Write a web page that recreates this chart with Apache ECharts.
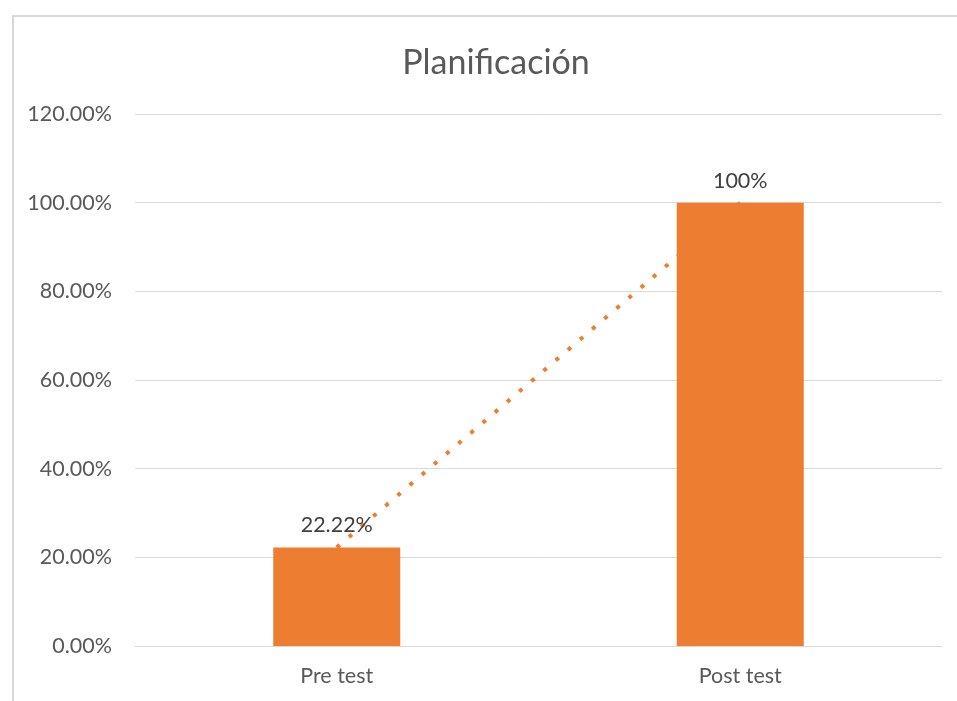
<!DOCTYPE html>
<html>
<head>
<meta charset="utf-8">
<script src="https://cdn.jsdelivr.net/npm/echarts@6/dist/echarts.min.js"></script>
<style>html,body{margin:0;padding:0;background:#fff}#c{width:957px;height:701px}</style>
</head>
<body>
<div id="c"></div>
<script>
const titleText = 'Planificación';
const categories = ['Pre test', 'Post test'];
const values = [0.2222, 1.0];
const valueLabels = ['22.22%', '100%'];
const yMin = 0, yMax = 1.2, yStep = 0.2;

const chart = echarts.init(document.getElementById('c'));
const font = 'Lato, "Open Sans", sans-serif';
chart.setOption({
  animation: false,
  backgroundColor: '#fff',
  textStyle: { fontFamily: font },
  graphic: [{
    type: 'rect', left: 12, top: 15, z: -10,
    shape: { width: 980, height: 720 },
    style: { fill: '#fff', stroke: '#d9d9d9', lineWidth: 2 }
  }],
  title: {
    text: titleText, left: 491, top: 41, textAlign: 'center',
    textStyle: { fontFamily: font, fontSize: 34, fontWeight: 'normal', color: '#595959' }
  },
  grid: { left: 135, right: 15, top: 114, bottom: 55, containLabel: false },
  xAxis: {
    type: 'category', data: categories,
    axisLine: { lineStyle: { color: '#d9d9d9' } },
    axisTick: { show: false },
    axisLabel: { color: '#595959', fontSize: 21.5, fontFamily: font, margin: 19 }
  },
  yAxis: {
    type: 'value', min: yMin, max: yMax, interval: yStep,
    axisLine: { show: false }, axisTick: { show: false },
    splitLine: { lineStyle: { color: '#d9d9d9', width: 1 } },
    axisLabel: { color: '#595959', fontSize: 21.5, fontFamily: font, margin: 23,
      formatter: v => (v * 100).toFixed(2) + '%' }
  },
  series: [
    {
      type: 'line', data: values, z: 1, symbol: 'none', silent: true,
      lineStyle: { color: '#ED7D31', width: 4, type: [4, 12], cap: 'butt' }
    },
    {
      type: 'bar', data: values, z: 2, barWidth: 127,
      itemStyle: { color: '#ED7D31' },
      label: { show: true, position: 'top', distance: 11, color: '#404040', fontSize: 21.5, fontFamily: font,
        formatter: p => valueLabels[p.dataIndex] }
    }
  ]
});
</script>
</body>
</html>
